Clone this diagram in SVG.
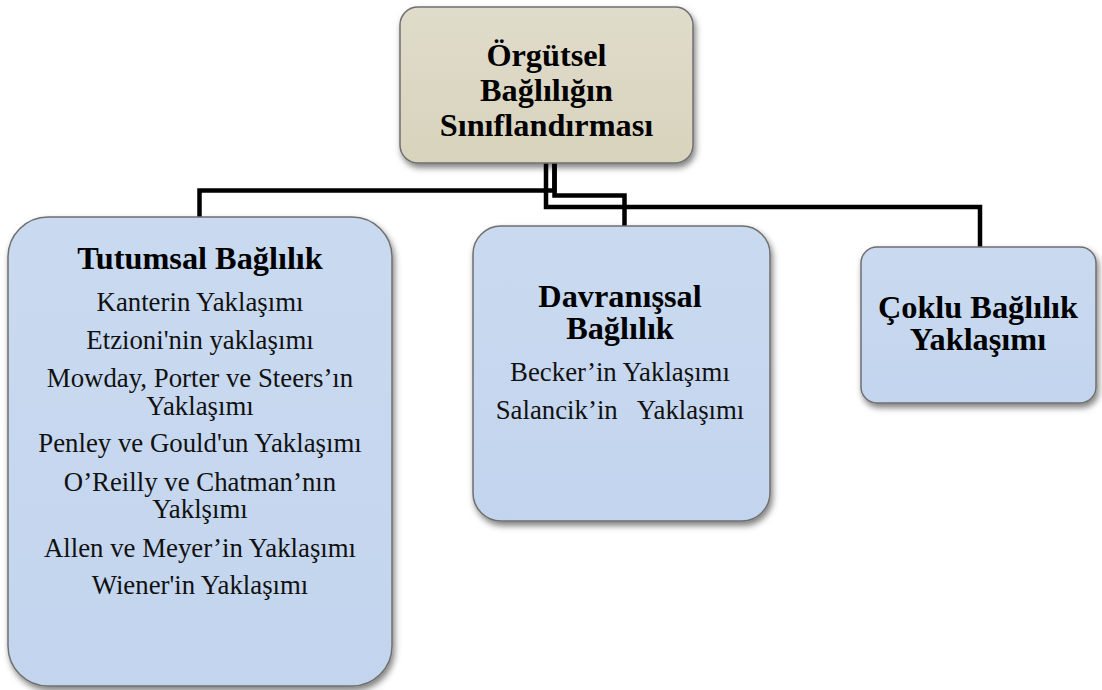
<svg xmlns="http://www.w3.org/2000/svg" width="1102" height="690" viewBox="0 0 1102 690">
  <defs>
    <filter id="shadow" x="-10%" y="-10%" width="125%" height="125%">
      <feDropShadow dx="2" dy="4" stdDeviation="3" flood-color="#000000" flood-opacity="0.5"/>
    </filter>
    <linearGradient id="tanFill" x1="0" y1="0" x2="0" y2="1">
      <stop offset="0" stop-color="#e0dccb"/>
      <stop offset="1" stop-color="#d8d3bc"/>
    </linearGradient>
    <linearGradient id="blueFill" x1="0" y1="0" x2="0" y2="1">
      <stop offset="0" stop-color="#c9daf0"/>
      <stop offset="1" stop-color="#c3d5ee"/>
    </linearGradient>
  </defs>
  <style>
    .box { stroke: #6f6f6f; stroke-width: 1.5; filter: url(#shadow); }
    .root { fill: url(#tanFill); }
    .leaf { fill: url(#blueFill); }
    .title { font-family: "Liberation Serif", "Times New Roman", serif; font-weight: bold; font-size: 32.3px; fill: #000; text-anchor: middle; }
    .item { font-family: "Liberation Serif", "Times New Roman", serif; font-size: 26.8px; fill: #111; text-anchor: middle; }
    .wire { fill: none; stroke: #000; stroke-width: 4.5; stroke-linejoin: miter; }
  </style>

  <rect width="1102" height="690" fill="#ffffff"/>

  <!-- elbow connectors from the root to the three categories -->
  <g id="connectors">
    <path class="wire" d="M554.5 162 V190.5 H199.5 V218"/>
    <path class="wire" d="M554.5 162 V195.5 H624.5 V227"/>
    <path class="wire" d="M546 162 V207 H980 V248"/>
  </g>

  <g id="root">
    <rect class="box root" x="400" y="7" width="293" height="156" rx="18" ry="18"/>
    <text class="title" x="546.5" y="66">Örgütsel</text>
    <text class="title" x="546.5" y="101">Bağlılığın</text>
    <text class="title" x="546.5" y="136">Sınıflandırması</text>
  </g>

  <g id="tutumsal">
    <rect class="box leaf" x="8" y="217" width="384" height="469" rx="40" ry="40"/>
    <text class="title" x="200" y="269">Tutumsal Bağlılık</text>
    <text class="item" x="200" y="311">Kanterin Yaklaşımı</text>
    <text class="item" x="200" y="348.5">Etzioni'nin yaklaşımı</text>
    <text class="item" x="200" y="386.5">Mowday, Porter ve Steers’ın</text>
    <text class="item" x="200" y="414.5">Yaklaşımı</text>
    <text class="item" x="200" y="452">Penley ve Gould'un Yaklaşımı</text>
    <text class="item" x="200" y="490.5">O’Reilly ve Chatman’nın</text>
    <text class="item" x="200" y="518">Yaklşımı</text>
    <text class="item" x="200" y="556.5">Allen ve Meyer’in Yaklaşımı</text>
    <text class="item" x="200" y="594">Wiener'in Yaklaşımı</text>
  </g>

  <g id="davranissal">
    <rect class="box leaf" x="473" y="226" width="297" height="295" rx="28" ry="28"/>
    <text class="title" x="620" y="307">Davranışsal</text>
    <text class="title" x="620" y="339">Bağlılık</text>
    <text class="item" x="620" y="380.5">Becker’in Yaklaşımı</text>
    <text class="item" x="620" y="419" xml:space="preserve">Salancik’in   Yaklaşımı</text>
  </g>

  <g id="coklu">
    <rect class="box leaf" x="861" y="247" width="235" height="156" rx="16" ry="16"/>
    <text class="title" x="978" y="318">Çoklu Bağlılık</text>
    <text class="title" x="978" y="350">Yaklaşımı</text>
  </g>
</svg>
